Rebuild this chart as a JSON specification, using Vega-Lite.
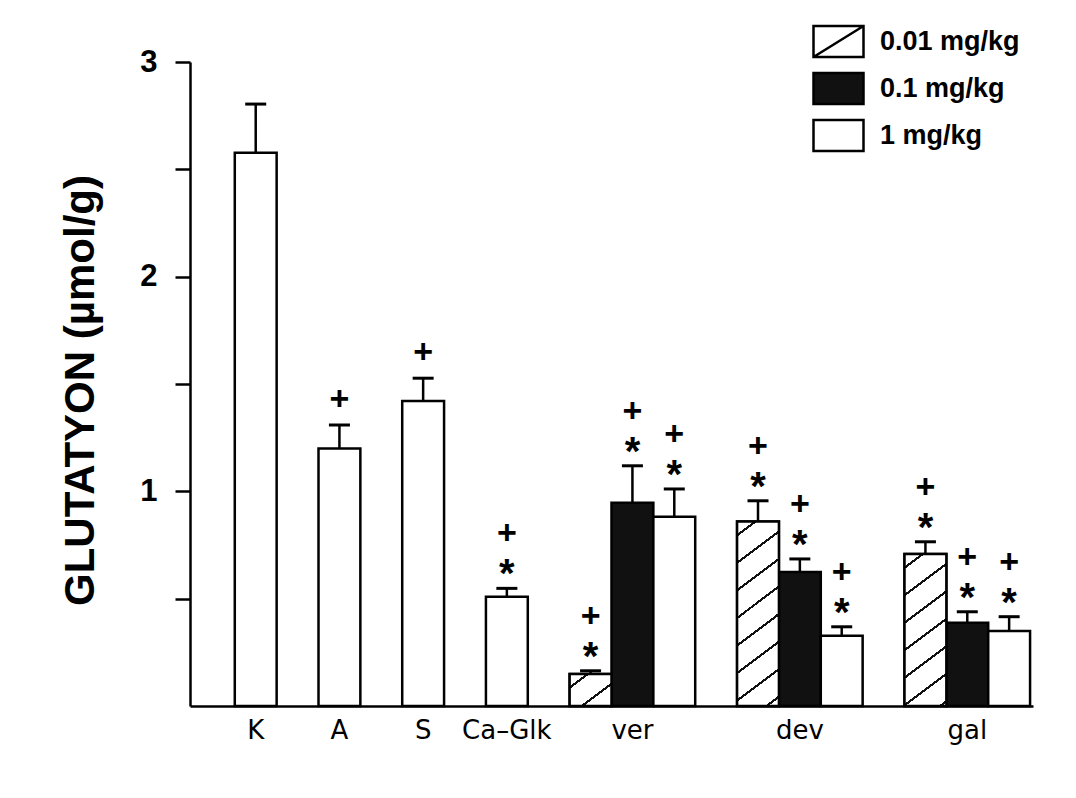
{
  "$schema": "https://vega.github.io/schema/vega-lite/v6.json",
  "width": 843,
  "height": 644,
  "autosize": {"type": "none"},
  "padding": {"left": 190, "top": 62, "right": 43, "bottom": 92},
  "background": "white",
  "config": {
    "view": {"stroke": null},
    "font": "Liberation Sans",
    "axis": {"grid": false, "domainColor": "black", "domainWidth": 2.5, "tickColor": "black", "tickWidth": 2.5, "labelColor": "black", "titleColor": "black"}
  },
  "data": {
    "values": [
      {"bar": "K", "group": "K", "dose": null, "mean": 2.577, "upper": 2.804, "star": false, "plus": false},
      {"bar": "A", "group": "A", "dose": null, "mean": 1.200, "upper": 1.309, "star": false, "plus": true},
      {"bar": "S", "group": "S", "dose": null, "mean": 1.421, "upper": 1.527, "star": false, "plus": true},
      {"bar": "Ca-Glk", "group": "Ca-Glk", "dose": null, "mean": 0.509, "upper": 0.548, "star": true, "plus": true},
      {"bar": "ver-0.01", "group": "ver", "dose": "0.01 mg/kg", "mean": 0.149, "upper": 0.164, "star": true, "plus": true},
      {"bar": "ver-0.1", "group": "ver", "dose": "0.1 mg/kg", "mean": 0.947, "upper": 1.119, "star": true, "plus": true},
      {"bar": "ver-1", "group": "ver", "dose": "1 mg/kg", "mean": 0.882, "upper": 1.011, "star": true, "plus": true},
      {"bar": "dev-0.01", "group": "dev", "dose": "0.01 mg/kg", "mean": 0.859, "upper": 0.956, "star": true, "plus": true},
      {"bar": "dev-0.1", "group": "dev", "dose": "0.1 mg/kg", "mean": 0.624, "upper": 0.685, "star": true, "plus": true},
      {"bar": "dev-1", "group": "dev", "dose": "1 mg/kg", "mean": 0.327, "upper": 0.369, "star": true, "plus": true},
      {"bar": "gal-0.01", "group": "gal", "dose": "0.01 mg/kg", "mean": 0.708, "upper": 0.765, "star": true, "plus": true},
      {"bar": "gal-0.1", "group": "gal", "dose": "0.1 mg/kg", "mean": 0.388, "upper": 0.439, "star": true, "plus": true},
      {"bar": "gal-1", "group": "gal", "dose": "1 mg/kg", "mean": 0.349, "upper": 0.416, "star": true, "plus": true}
    ]
  },
  "encoding": {
    "x": {
      "field": "bar",
      "type": "nominal",
      "title": null,
      "sort": null,
      "scale": {
        "domain": ["g0", "K", "g1", "A", "g2", "S", "g3", "Ca-Glk", "g4", "ver-0.01", "ver-0.1", "ver-1", "g5", "dev-0.01", "dev-0.1", "dev-1", "g6", "gal-0.01", "gal-0.1", "gal-1"],
        "paddingInner": 0,
        "paddingOuter": 0.07
      },
      "axis": {
        "ticks": false,
        "labelAngle": 0,
        "labelPadding": 11,
        "labelFont": "DejaVu Sans",
        "labelFontSize": 26,
        "labelBaseline": "top",
        "labelExpr": "datum.value == 'ver-0.1' ? 'ver' : datum.value == 'dev-0.1' ? 'dev' : datum.value == 'gal-0.1' ? 'gal' : datum.value == 'Ca-Glk' ? 'Ca–Glk' : (datum.value == 'K' || datum.value == 'A' || datum.value == 'S') ? datum.value : ''"
      }
    }
  },
  "layer": [
    {
      "transform": [{"filter": "datum.dose == null"}],
      "mark": {"type": "bar", "fill": "white", "stroke": "black", "strokeWidth": 2.5},
      "encoding": {
        "y": {
          "field": "mean",
          "type": "quantitative",
          "title": "GLUTATYON (µmol/g)",
          "scale": {"domain": [0, 3], "nice": false},
          "axis": {
            "values": [0.5, 1, 1.5, 2, 2.5, 3],
            "labelExpr": "datum.value == 1 ? '1' : datum.value == 2 ? '2' : datum.value == 3 ? '3' : ''",
            "tickSize": 15,
            "labelPadding": 18,
            "labelFont": "Liberation Sans",
            "labelFontWeight": "bold",
            "labelFontSize": 31,
            "titleFont": "Liberation Sans",
            "titleFontWeight": "bold",
            "titleFontSize": 42,
            "titleAngle": -90,
            "titleX": -97,
            "titleY": 328,
            "titleAlign": "center",
            "titleBaseline": "alphabetic"
          }
        }
      }
    },
    {
      "transform": [{"filter": "datum.dose != null"}],
      "mark": {"type": "bar", "stroke": "black", "strokeWidth": 2.5, "fillOpacity": 1},
      "encoding": {
        "y": {"field": "mean", "type": "quantitative", "title": "GLUTATYON (µmol/g)"},
        "fill": {
          "field": "dose",
          "type": "nominal",
          "scale": {"domain": ["0.01 mg/kg", "0.1 mg/kg", "1 mg/kg"], "range": ["white", "#111111", "white"]},
          "legend": {
            "title": null,
            "orient": "none",
            "legendX": 622,
            "legendY": -47,
            "symbolType": "M-1,-0.62H1V0.62H-1Z",
            "symbolSize": 2500,
            "symbolStrokeColor": "black",
            "symbolStrokeWidth": 2.5,
            "labelFont": "Liberation Sans",
            "labelFontWeight": "bold",
            "labelFontSize": 27,
            "labelColor": "black",
            "labelOffset": 15,
            "rowPadding": -0.5,
            "encode": {
              "symbols": {
                "update": {
                  "shape": {"signal": "datum.value === '0.01 mg/kg' ? 'M-1,-0.62H1V0.62H-1ZM-1,0.62L1,-0.62' : 'M-1,-0.62H1V0.62H-1Z'"},
                  "stroke": {"value": "black"},
                  "strokeWidth": {"value": 2.5}
                }
              }
            }
          }
        }
      }
    },
    {
      "transform": [{"filter": "datum.bar == 'ver-0.01'"}],
      "mark": {
        "type": "bar", "stroke": "black", "strokeWidth": 2.5,
        "fill": {"gradient": "linear", "x1": 0, "y1": 0, "x2": 0.9906, "y2": 1.0094, "stops": [
          {"offset": 0, "color": "white"}, {"offset": 0.1952, "color": "white"}, {"offset": 0.1952, "color": "#111111"}, {"offset": 0.2386, "color": "#111111"}, {"offset": 0.2386, "color": "white"},
          {"offset": 0.6289, "color": "white"}, {"offset": 0.6289, "color": "#111111"}, {"offset": 0.6723, "color": "#111111"}, {"offset": 0.6723, "color": "white"}, {"offset": 1, "color": "white"}
        ]}
      },
      "encoding": {"y": {"field": "mean", "type": "quantitative", "title": "GLUTATYON (µmol/g)"}}
    },
    {
      "transform": [{"filter": "datum.bar == 'dev-0.01'"}],
      "mark": {
        "type": "bar", "stroke": "black", "strokeWidth": 2.5,
        "fill": {"gradient": "linear", "x1": 0, "y1": 0, "x2": 0.19389, "y2": 1.13742, "stops": [
          {"offset": 0, "color": "white"},
          {"offset": 0.0574, "color": "white"}, {"offset": 0.0574, "color": "#111111"}, {"offset": 0.0702, "color": "#111111"}, {"offset": 0.0702, "color": "white"},
          {"offset": 0.1850, "color": "white"}, {"offset": 0.1850, "color": "#111111"}, {"offset": 0.1977, "color": "#111111"}, {"offset": 0.1977, "color": "white"},
          {"offset": 0.3125, "color": "white"}, {"offset": 0.3125, "color": "#111111"}, {"offset": 0.3253, "color": "#111111"}, {"offset": 0.3253, "color": "white"},
          {"offset": 0.4401, "color": "white"}, {"offset": 0.4401, "color": "#111111"}, {"offset": 0.4528, "color": "#111111"}, {"offset": 0.4528, "color": "white"},
          {"offset": 0.5676, "color": "white"}, {"offset": 0.5676, "color": "#111111"}, {"offset": 0.5804, "color": "#111111"}, {"offset": 0.5804, "color": "white"},
          {"offset": 0.6952, "color": "white"}, {"offset": 0.6952, "color": "#111111"}, {"offset": 0.7079, "color": "#111111"}, {"offset": 0.7079, "color": "white"},
          {"offset": 0.8227, "color": "white"}, {"offset": 0.8227, "color": "#111111"}, {"offset": 0.8355, "color": "#111111"}, {"offset": 0.8355, "color": "white"},
          {"offset": 0.9503, "color": "white"}, {"offset": 0.9503, "color": "#111111"}, {"offset": 0.9631, "color": "#111111"}, {"offset": 0.9631, "color": "white"},
          {"offset": 1, "color": "white"}
        ]}
      },
      "encoding": {"y": {"field": "mean", "type": "quantitative", "title": "GLUTATYON (µmol/g)"}}
    },
    {
      "transform": [{"filter": "datum.bar == 'gal-0.01'"}],
      "mark": {
        "type": "bar", "stroke": "black", "strokeWidth": 2.5,
        "fill": {"gradient": "linear", "x1": 0, "y1": 0, "x2": 0.23907, "y2": 1.15719, "stops": [
          {"offset": 0, "color": "white"},
          {"offset": 0.0675, "color": "white"}, {"offset": 0.0675, "color": "#111111"}, {"offset": 0.0825, "color": "#111111"}, {"offset": 0.0825, "color": "white"},
          {"offset": 0.2174, "color": "white"}, {"offset": 0.2174, "color": "#111111"}, {"offset": 0.2324, "color": "#111111"}, {"offset": 0.2324, "color": "white"},
          {"offset": 0.3674, "color": "white"}, {"offset": 0.3674, "color": "#111111"}, {"offset": 0.3824, "color": "#111111"}, {"offset": 0.3824, "color": "white"},
          {"offset": 0.5173, "color": "white"}, {"offset": 0.5173, "color": "#111111"}, {"offset": 0.5323, "color": "#111111"}, {"offset": 0.5323, "color": "white"},
          {"offset": 0.6673, "color": "white"}, {"offset": 0.6673, "color": "#111111"}, {"offset": 0.6823, "color": "#111111"}, {"offset": 0.6823, "color": "white"},
          {"offset": 0.8172, "color": "white"}, {"offset": 0.8172, "color": "#111111"}, {"offset": 0.8322, "color": "#111111"}, {"offset": 0.8322, "color": "white"},
          {"offset": 0.9672, "color": "white"}, {"offset": 0.9672, "color": "#111111"}, {"offset": 0.9822, "color": "#111111"}, {"offset": 0.9822, "color": "white"},
          {"offset": 1, "color": "white"}
        ]}
      },
      "encoding": {"y": {"field": "mean", "type": "quantitative", "title": "GLUTATYON (µmol/g)"}}
    },
    {
      "mark": {"type": "rule", "stroke": "black", "strokeWidth": 2.5},
      "encoding": {
        "y": {"field": "mean", "type": "quantitative", "title": "GLUTATYON (µmol/g)"},
        "y2": {"field": "upper"}
      }
    },
    {
      "mark": {"type": "tick", "orient": "horizontal", "size": 21, "thickness": 3, "color": "black", "opacity": 1},
      "encoding": {"y": {"field": "upper", "type": "quantitative", "title": "GLUTATYON (µmol/g)"}}
    },
    {
      "transform": [{"filter": "datum.star"}],
      "mark": {"type": "text", "text": "*", "font": "Liberation Sans", "fontWeight": "bold", "fontSize": 40, "baseline": "middle", "dy": -13, "color": "black"},
      "encoding": {"y": {"field": "upper", "type": "quantitative", "title": "GLUTATYON (µmol/g)"}}
    },
    {
      "transform": [{"filter": "datum.plus && datum.star"}],
      "mark": {"type": "text", "text": "+", "font": "Liberation Sans", "fontWeight": "bold", "fontSize": 34, "baseline": "middle", "dy": -54, "color": "black"},
      "encoding": {"y": {"field": "upper", "type": "quantitative", "title": "GLUTATYON (µmol/g)"}}
    },
    {
      "transform": [{"filter": "datum.plus && !datum.star"}],
      "mark": {"type": "text", "text": "+", "font": "Liberation Sans", "fontWeight": "bold", "fontSize": 34, "baseline": "middle", "dy": -25, "color": "black"},
      "encoding": {"y": {"field": "upper", "type": "quantitative", "title": "GLUTATYON (µmol/g)"}}
    }
  ]
}
